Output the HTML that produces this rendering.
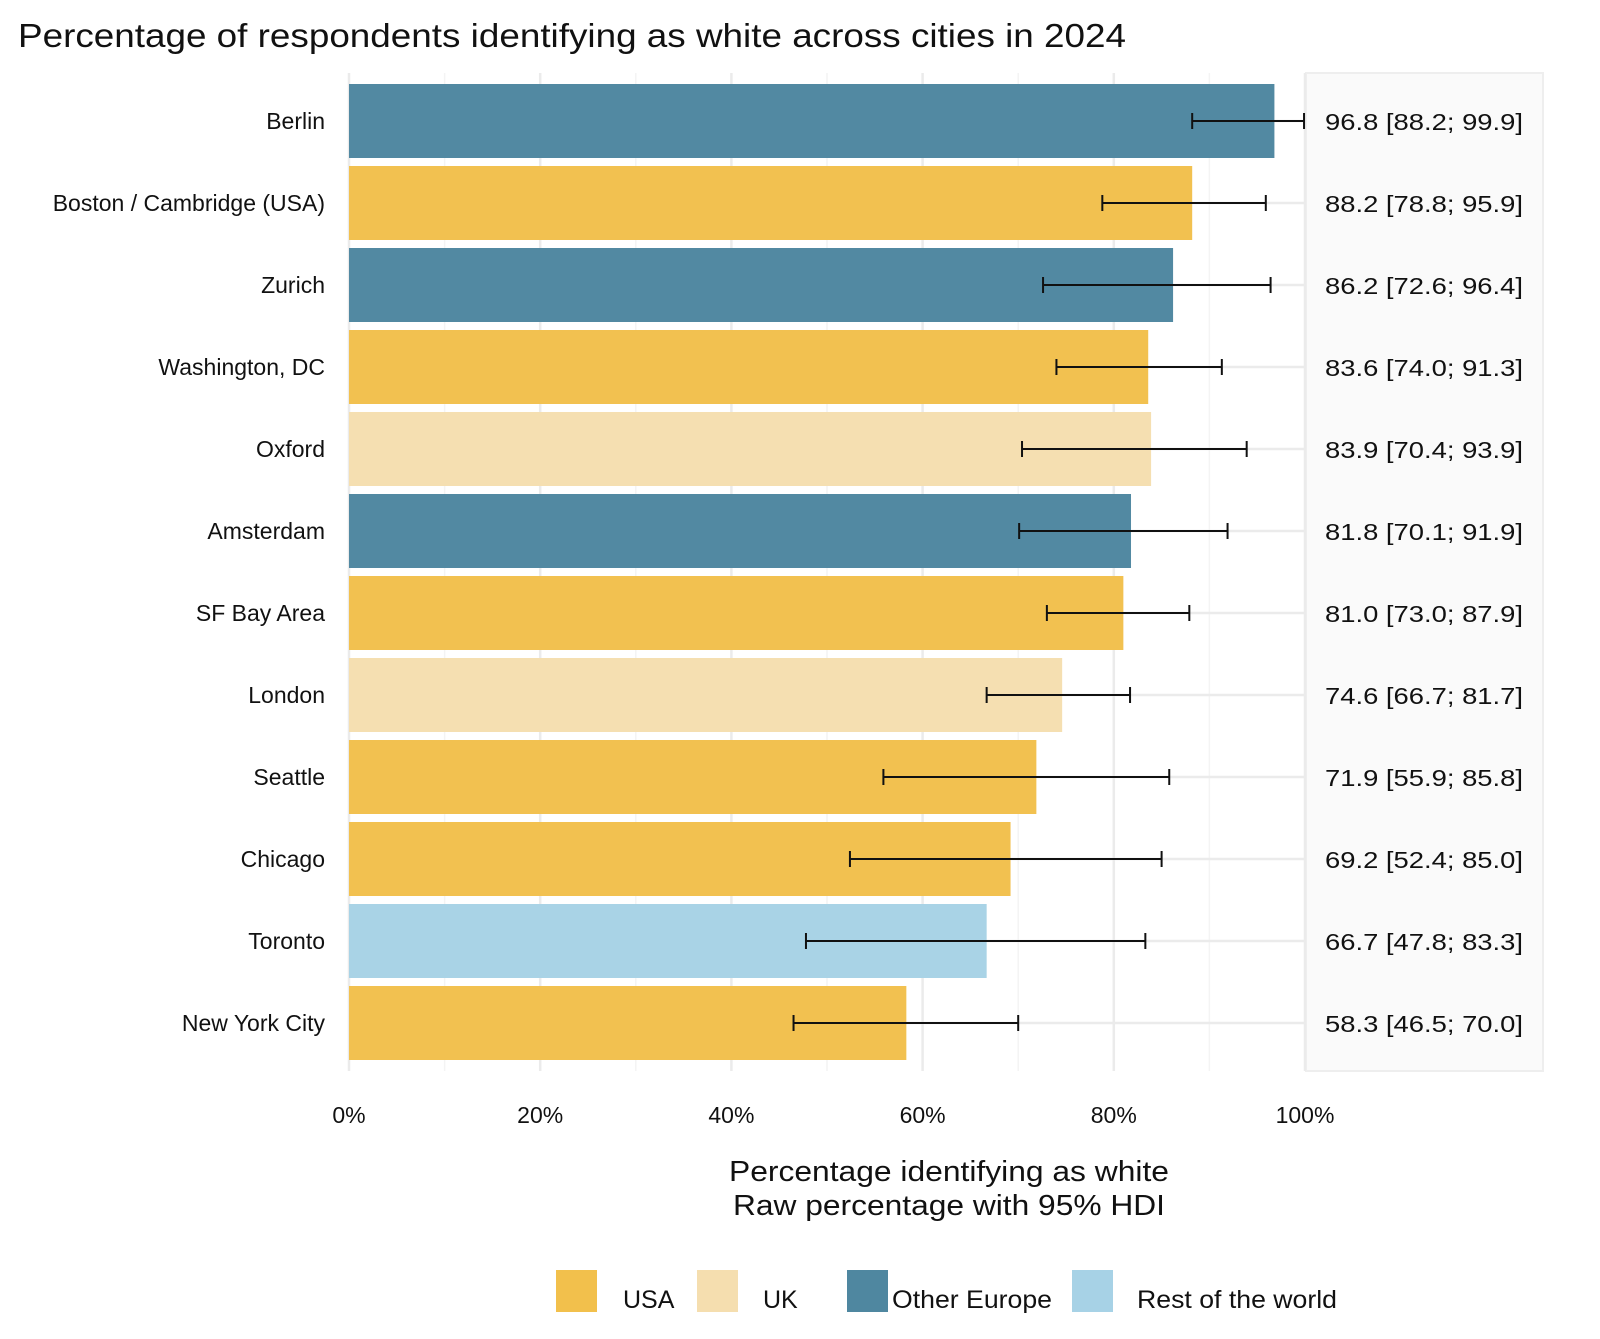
<!DOCTYPE html>
<html><head><meta charset="utf-8"><style>
body{margin:0;background:#fff;}
svg text{font-family:"Liberation Sans",sans-serif;fill:#111;}
</style></head><body>
<svg id="chart" width="1600" height="1334" viewBox="0 0 1600 1334" xmlns="http://www.w3.org/2000/svg">
<text x="18" y="47" font-size="33" textLength="1108" lengthAdjust="spacingAndGlyphs">Percentage of respondents identifying as white across cities in 2024</text>
<rect x="1306" y="73" width="237" height="998" fill="#fafafa" stroke="#eeeeee" stroke-width="2"/>
<g id="grid"></g><g id="bars"></g><g id="err"></g><g id="labels"></g>
<text x="949" y="1181" font-size="29" text-anchor="middle" textLength="440" lengthAdjust="spacingAndGlyphs">Percentage identifying as white</text>
<text x="949" y="1215" font-size="29" text-anchor="middle" textLength="432" lengthAdjust="spacingAndGlyphs">Raw percentage with 95% HDI</text>
<g>
<rect x="556" y="1270" width="41" height="42" fill="#f2c04c"/>
<text x="623" y="1308" font-size="25">USA</text>
<rect x="697" y="1270" width="41" height="42" fill="#f5deaf"/>
<text x="763" y="1308" font-size="25">UK</text>
<rect x="847" y="1270" width="41" height="42" fill="#4f87a0"/>
<text x="892" y="1308" font-size="25" textLength="160" lengthAdjust="spacingAndGlyphs">Other Europe</text>
<rect x="1072" y="1270" width="41" height="42" fill="#a7d2e6"/>
<text x="1137" y="1308" font-size="25" textLength="200" lengthAdjust="spacingAndGlyphs">Rest of the world</text>
</g>
</svg>
<script>
const cities=["Berlin","Boston / Cambridge (USA)","Zurich","Washington, DC","Oxford","Amsterdam","SF Bay Area","London","Seattle","Chicago","Toronto","New York City"];
const regions=["Other Europe","USA","Other Europe","USA","UK","Other Europe","USA","UK","USA","USA","Rest","USA"];
const values=[96.8,88.2,86.2,83.6,83.9,81.8,81.0,74.6,71.9,69.2,66.7,58.3];
const lows=[88.2,78.8,72.6,74.0,70.4,70.1,73.0,66.7,55.9,52.4,47.8,46.5];
const highs=[99.9,95.9,96.4,91.3,93.9,91.9,87.9,81.7,85.8,85.0,83.3,70.0];
const ticks=[0,20,40,60,80,100];
const tickLabels=["0%","20%","40%","60%","80%","100%"];
const colors={"USA":"#f2c04c","UK":"#f5deaf","Other Europe":"#4f87a0","Rest":"#a7d2e6"};
const NS="http://www.w3.org/2000/svg";
const X0=349,X1=1305,T=73,B=1071,pitch=82,first=121,bh=74;
const x=v=>X0+(X1-X0)*v/100;
const y=i=>first+i*pitch;
function mk(tag,attrs,parent,txt){const e=document.createElementNS(NS,tag);for(const k in attrs)e.setAttribute(k,attrs[k]);if(txt!==undefined)e.textContent=txt;document.getElementById(parent).appendChild(e);return e;}
for(let v=0;v<=100;v+=10){
 const g=mk("line",{x1:x(v),x2:x(v),y1:T,y2:B,stroke:v%20===0?"#ebebeb":"#f4f4f4","stroke-width":v%20===0?2.5:1.5},"grid");
 
 
}
cities.forEach((c,i)=>{
 const h=mk("line",{x1:X0,x2:X1,y1:y(i),y2:y(i),stroke:"#ebebeb","stroke-width":2.5},"grid");
 
 
 const r=mk("rect",{x:X0,y:y(i)-bh/2,width:x(values[i])-X0,height:bh,fill:colors[regions[i]],opacity:0.98},"bars");
 
 
 const e=mk("path",{d:`M${x(lows[i])},${y(i)}H${x(highs[i])}M${x(lows[i])},${y(i)-8}v16M${x(highs[i])},${y(i)-8}v16`,stroke:"#111","stroke-width":2,fill:"none"},"err");
 
 
 const l=mk("text",{x:325,y:y(i)+8,"font-size":23,"text-anchor":"end"},"labels",c);
 
 
 const s=mk("text",{x:1424,y:y(i)+9,"font-size":23,"text-anchor":"middle",textLength:198,lengthAdjust:"spacingAndGlyphs"},"labels",values[i].toFixed(1)+" ["+lows[i].toFixed(1)+"; "+highs[i].toFixed(1)+"]");
 
 
});
ticks.forEach((t,i)=>{
 const l=mk("text",{x:x(t),y:1123,"font-size":23,"text-anchor":"middle"},"labels",tickLabels[i]);
 
 
});
</script>
</body></html>
